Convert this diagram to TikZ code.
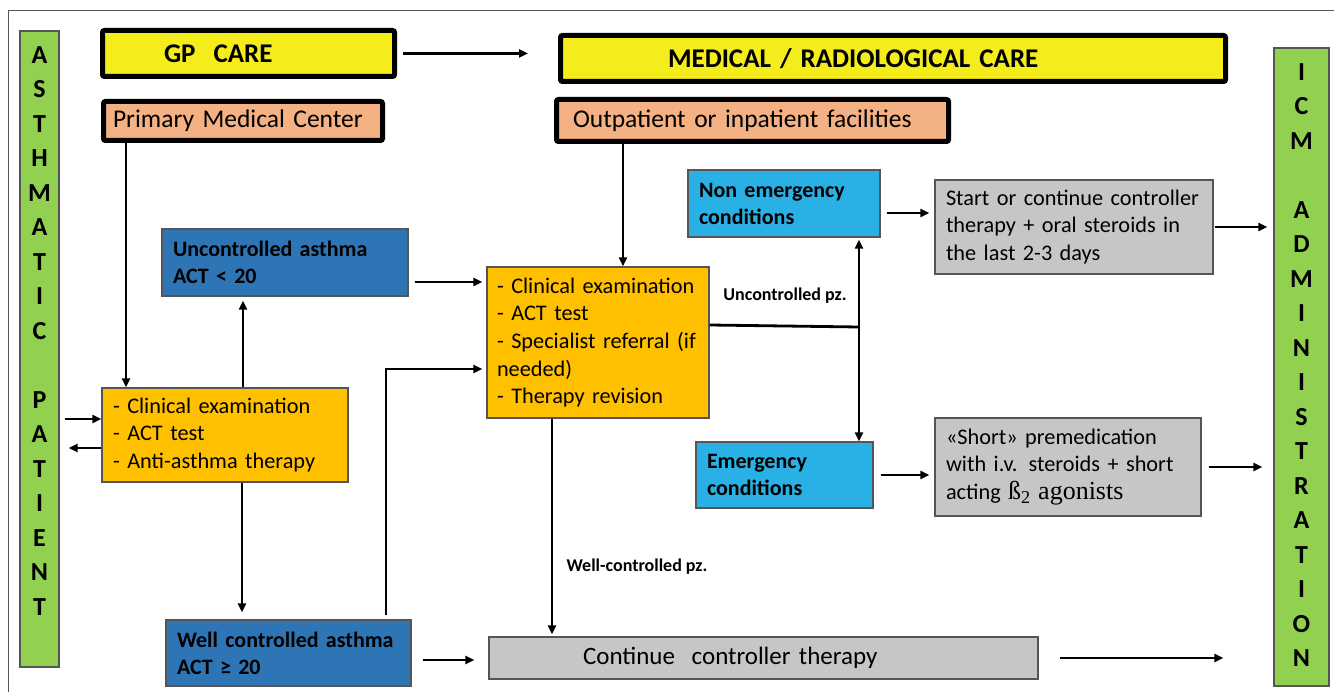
\documentclass[tikz,border=0pt]{standalone}
\usepackage{fontspec}
\setmainfont{Carlito}
\newfontfamily\serfont{Liberation Serif}
\usetikzlibrary{arrows.meta}
\definecolor{capyellow}{HTML}{F5EC1B}
\definecolor{salmon}{HTML}{F4B183}
\definecolor{gold}{HTML}{FFC000}
\definecolor{darkblue}{HTML}{2E75B6}
\definecolor{lightblue}{HTML}{29B0E4}
\definecolor{boxgray}{HTML}{C6C6C6}
\definecolor{patgreen}{HTML}{92D050}
\definecolor{edgegray}{HTML}{555555}

\begin{document}
\begin{tikzpicture}[x=1pt,y=-1pt,
    thickbox/.style={draw=black, line width=5pt, rounded corners=2pt, align=left, inner ysep=0pt},
    thinbox/.style={draw=edgegray, line width=1.2pt, align=left, inner ysep=0pt},
    carebox/.style={thickbox, fill=capyellow, minimum height=46pt, font=\fontsize{27}{32}\selectfont\bfseries},
    sitebox/.style={thickbox, fill=salmon, font=\fontsize{25.5}{31}\selectfont},
    goldbox/.style={thinbox, fill=gold, inner xsep=11pt, font=\fontsize{22.3}{27.6}\selectfont},
    darkbox/.style={thinbox, fill=darkblue, inner xsep=11pt, font=\fontsize{22}{27}\selectfont\bfseries},
    lightbox/.style={thinbox, fill=lightblue, inner xsep=11pt, font=\fontsize{22}{27}\selectfont\bfseries},
    graybox/.style={thinbox, fill=boxgray, inner xsep=11pt, font=\fontsize{22.3}{27.8}\selectfont},
    sidebox/.style={thinbox, fill=patgreen},
    letters/.style={align=center, font=\fontsize{26}{34.5}\selectfont\bfseries},
    lab/.style={font=\fontsize{18}{21}\selectfont\bfseries},
    arr/.style={line width=2.8pt, -{Triangle[length=9pt,width=8pt]}},
    line/.style={line width=2.8pt}]
  \useasboundingbox (0,0) rectangle (1334,692);
  \draw[edgegray, line width=1pt] (8,692) -- (8,11) -- (1334,11);

  % side columns
  \node[sidebox, minimum width=39pt, minimum height=636pt,
    label={[letters, yshift=18pt]center:{A\\S\\T\\H\\M\\A\\T\\I\\C\\[34.5pt]P\\A\\T\\I\\E\\N\\T}}]
    (patient) at (39.5,349) {};
  \node[sidebox, minimum width=55pt, minimum height=638pt,
    label={[letters, yshift=2pt]center:{I\\C\\M\\[34.5pt]A\\D\\M\\I\\N\\I\\S\\T\\R\\A\\T\\I\\O\\N}}]
    (icm) at (1301.5,367) {};

  % headers
  \node[carebox, inner xsep=61.5pt, text width=169pt] (gp) at (248.5,53.5) {GP~~CARE};
  \node[carebox, inner xsep=107.5pt, text width=450pt] (med) at (893,58.5) {MEDICAL / RADIOLOGICAL CARE};
  \node[sitebox, minimum height=39pt, inner xsep=9.5pt, text width=260pt] (pmc) at (243,121) {Primary Medical Center};
  \node[sitebox, minimum height=42pt, inner xsep=16.5pt, text width=359pt] (outp) at (752.5,120.5) {Outpatient or inpatient facilities};

  % GP side
  \node[darkbox, minimum height=67pt, text width=224pt] (unc) at (285,262.5) {Uncontrolled asthma\\ACT < 20};
  \node[goldbox, minimum height=94pt, text width=224pt] (clin1) at (225,435)
    {- Clinical examination\\- ACT test\\- Anti-asthma therapy};
  \node[darkbox, minimum height=66pt, text width=223pt] (well) at (288.5,653) {Well controlled asthma\\ACT ≥ 20};

  % hospital side
  \node[goldbox, minimum height=151pt, inner xsep=10pt, text width=202pt] (clin2) at (598,342.5)
    {- Clinical examination\\- ACT test\\\mbox{- Specialist referral (if}\\needed)\\- Therapy revision};
  \node[lightbox, minimum height=67pt, text width=170pt] (nonem) at (784,203.5) {Non emergency\\conditions};
  \node[lightbox, minimum height=66pt, text width=155pt] (emerg) at (784.5,475) {Emergency\\conditions};
  \node[graybox, minimum height=94pt, text width=256pt] (start) at (1074,227)
    {\mbox{Start or continue controller}\\therapy + oral steroids in\\the last 2-3 days};
  \node[graybox, minimum height=98pt, text width=244pt] (short) at (1068,467)
    {«Short» premedication\\with i.v. steroids + short\\acting {\serfont\fontsize{26}{27.8}\selectfont ß\textsubscript{2} agonists}};
  \node[graybox, minimum height=42pt, inner xsep=94pt, text width=361pt, font=\fontsize{25}{30}\selectfont] (cont) at (763.5,658)
    {Continue~~controller therapy};

  \node[lab] (uncpz) at (785,296) {Uncontrolled pz.};
  \node[lab, anchor=west] (wellpz) at (563,567) {Well-controlled pz.};
  \coordinate (split) at (859,327);

  % connectors
  \draw[arr, shorten <=6pt, shorten >=30pt] (gp.east) -- (gp.east -| med.west);
  \draw[arr] ([xshift=25pt]pmc.south west) -- ([xshift=25pt]pmc.south west |- clin1.north);
  \draw[arr] ([xshift=69pt]outp.south west) -- ([xshift=69pt]outp.south west |- clin2.north);
  \draw[arr, shorten >=4pt] ([xshift=18pt]clin1.north) -- ([xshift=18pt]clin1.north |- unc.south);
  \draw[arr, shorten >=7pt] ([xshift=17pt]clin1.south) -- ([xshift=17pt]clin1.south |- well.north);
  \draw[arr, shorten <=6pt, shorten >=4pt] ([yshift=-19.5pt]unc.east) -- ([yshift=-19.5pt]unc.east -| clin2.west);
  \draw[arr, shorten <=4pt, shorten >=4pt] ([xshift=97.5pt]well.north) |- ([yshift=-26.5pt]clin2.west);
  \draw[arr, shorten <=11pt, shorten >=14pt] ([yshift=-7pt]well.east) -- ([yshift=-7pt]well.east -| cont.west);
  \draw[arr, shorten <=21pt, shorten >=50pt] (cont.east) -- (cont.east -| icm.west);
  \draw[arr, shorten >=2pt] ([xshift=-46pt]clin2.south) -- ([xshift=-46pt]clin2.south |- cont.north);
  \draw[line] ([yshift=17.5pt]clin2.east) -- (split);
  \draw[arr, shorten >=2pt] (split) -- (split |- nonem.south);
  \draw[arr] (split) -- (split |- emerg.north);
  \draw[arr, shorten <=6pt, shorten >=5pt] ([yshift=-9.5pt]nonem.east) -- ([yshift=-9.5pt]nonem.east -| start.west);
  \draw[arr, shorten <=1pt, shorten >=6pt] (start.east) -- (start.east -| icm.west);
  \draw[arr, shorten <=7pt, shorten >=5pt] (emerg.east) -- (emerg.east -| short.west);
  \draw[arr, shorten <=7pt, shorten >=11pt] (short.east) -- (short.east -| icm.west);
  \draw[arr, shorten <=5pt] ([yshift=16pt]clin1.west -| patient.east) -- ([yshift=16pt]clin1.west);
  \draw[arr, shorten >=9pt] ([yshift=-13pt]clin1.west) -- ([yshift=-13pt]clin1.west -| patient.east);
\end{tikzpicture}
\end{document}
